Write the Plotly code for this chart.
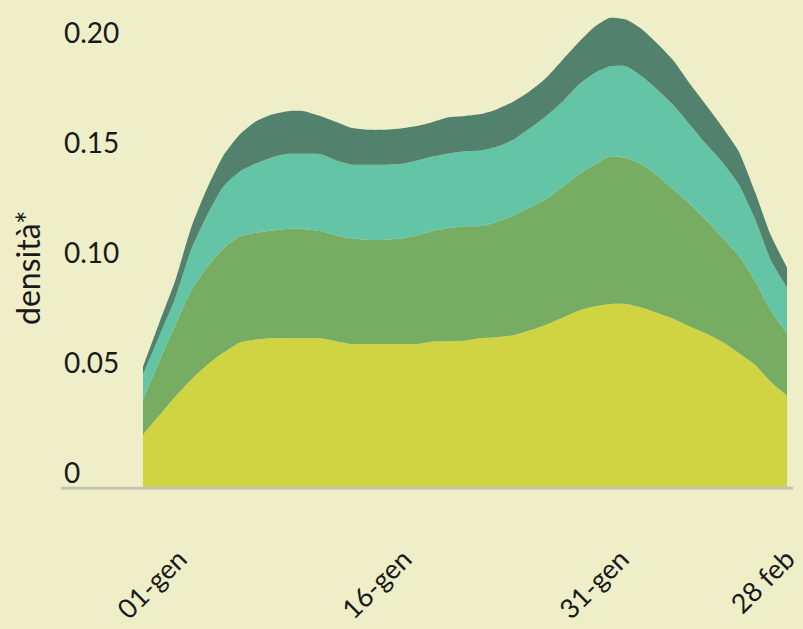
import plotly.graph_objects as go

# x positions (sample index along the period) and tick labels
giorni = list(range(41))
tick_pos = [2.25, 16.2, 29.7, 40]
tick_lab = ["01-gen", "16-gen", "31-gen", "28 feb"]

# stacked series (bottom to top), density values
serie_1 = [0.0243, 0.0330, 0.0416, 0.0493, 0.0561, 0.0616, 0.0661, 0.0675, 0.0682, 0.0681,
           0.0681, 0.0681, 0.0668, 0.0655, 0.0655, 0.0655, 0.0655, 0.0655, 0.0667, 0.0668,
           0.0670, 0.0682, 0.0686, 0.0695, 0.0716, 0.0741, 0.0773, 0.0805, 0.0825, 0.0837,
           0.0837, 0.0820, 0.0795, 0.0768, 0.0734, 0.0702, 0.0664, 0.0614, 0.0561, 0.0482,
           0.0420]
serie_2 = [0.0159, 0.0245, 0.0323, 0.0405, 0.0445, 0.0473, 0.0482, 0.0486, 0.0489, 0.0497,
           0.0497, 0.0487, 0.0480, 0.0479, 0.0473, 0.0473, 0.0479, 0.0492, 0.0501, 0.0514,
           0.0520, 0.0509, 0.0525, 0.0543, 0.0559, 0.0570, 0.0593, 0.0616, 0.0643, 0.0670,
           0.0663, 0.0650, 0.0623, 0.0584, 0.0555, 0.0514, 0.0473, 0.0443, 0.0382, 0.0325,
           0.0282]
serie_3 = [0.0114, 0.0114, 0.0123, 0.0186, 0.0236, 0.0282, 0.0295, 0.0314, 0.0332, 0.0341,
           0.0341, 0.0350, 0.0341, 0.0336, 0.0342, 0.0342, 0.0339, 0.0341, 0.0339, 0.0339,
           0.0341, 0.0343, 0.0341, 0.0345, 0.0359, 0.0377, 0.0386, 0.0409, 0.0416, 0.0410,
           0.0417, 0.0400, 0.0389, 0.0384, 0.0359, 0.0345, 0.0343, 0.0323, 0.0282, 0.0227,
           0.0209]
serie_4 = [0.0036, 0.0059, 0.0080, 0.0100, 0.0123, 0.0141, 0.0168, 0.0191, 0.0195, 0.0194,
           0.0194, 0.0173, 0.0175, 0.0166, 0.0158, 0.0158, 0.0161, 0.0157, 0.0157, 0.0164,
           0.0160, 0.0166, 0.0170, 0.0173, 0.0168, 0.0173, 0.0189, 0.0191, 0.0209, 0.0220,
           0.0212, 0.0214, 0.0209, 0.0202, 0.0186, 0.0177, 0.0159, 0.0150, 0.0123, 0.0114,
           0.0091]

y_ticks = [0, 0.05, 0.10, 0.15, 0.20]
y_labels = ["0", "0.05", "0.10", "0.15", "0.20"]

colori = ["#D0D443", "#76AD62", "#64C4A6", "#52816E"]
BG = "#EEEEC8"
FONT = "Lato"

fig = go.Figure()
for s, c in zip([serie_1, serie_2, serie_3, serie_4], colori):
    fig.add_trace(go.Scatter(
        x=giorni, y=s, stackgroup="one", mode="lines",
        line=dict(width=0, shape="spline", smoothing=0.6, color=c),
        fillcolor=c, hoverinfo="skip", showlegend=False,
    ))

# baseline along y = 0
fig.add_shape(type="line", xref="paper", yref="y", x0=0, x1=1, y0=0, y1=0,
              line=dict(color="#C4C4AE", width=3), layer="above")

fig.update_layout(
    width=803, height=629,
    paper_bgcolor=BG, plot_bgcolor=BG,
    margin=dict(l=61, r=10, t=0, b=132),
    font=dict(family=FONT, size=28, color="#1a1a1a"),
    showlegend=False,
    xaxis=dict(
        range=[-5.09, 40.37], showgrid=False, zeroline=False, automargin=False,
        showline=False,
        tickmode="array", tickvals=tick_pos, ticktext=tick_lab,
        tickangle=-45, ticks="", ticklabelstandoff=40,
        tickfont=dict(family=FONT, size=27, color="#1a1a1a"),
    ),
    yaxis=dict(
        range=[-0.004, 0.2218], showgrid=False, zeroline=False, showline=False, automargin=False,
        tickmode="array", tickvals=y_ticks, ticktext=y_labels,
        ticklabelposition="inside top", ticks="", ticklabelshift=5,
        tickfont=dict(family=FONT, size=28, color="#1a1a1a"),
    ),
    annotations=[dict(
        text="densità*", textangle=-90, xref="paper", yref="paper",
        x=(27 - 61) / 732, y=(497 - 268) / 497, xanchor="center", yanchor="middle",
        showarrow=False, font=dict(family=FONT, size=32, color="#1a1a1a"),
    )],
)

fig.write_html(
    "out.html",
    config=dict(displayModeBar=False),
    post_script="document.body.style.margin='0';document.body.style.background='%s';" % BG,
)
